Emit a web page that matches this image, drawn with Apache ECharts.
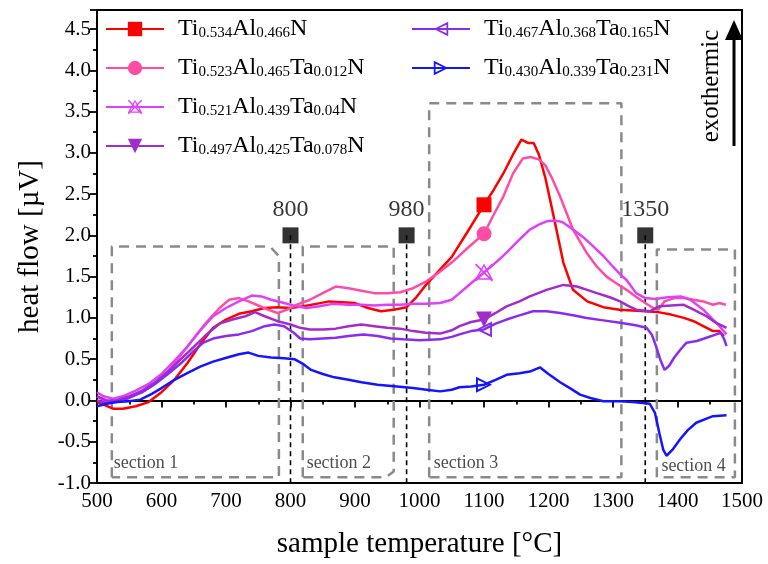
<!DOCTYPE html>
<html>
<head>
<meta charset="utf-8">
<script src="https://cdn.jsdelivr.net/npm/echarts@6/dist/echarts.min.js"></script>
<style>html,body{margin:0;padding:0;background:#fff}#c{width:768px;height:564px}</style>
</head>
<body>
<div id="c"></div>
<script>
// ---------- data (temperature °C, heat flow µV) ----------
const names = ['Ti0.534Al0.466N','Ti0.523Al0.465Ta0.012N','Ti0.521Al0.439Ta0.04N','Ti0.497Al0.425Ta0.078N','Ti0.467Al0.368Ta0.165N','Ti0.430Al0.339Ta0.231N'];

const ti534 = [[500,-0.02],[510,-0.05],[525,-0.1],[540,-0.1],[560,-0.07],[580,-0.02],[600,0.1],[620,0.25],[640,0.45],[660,0.68],[680,0.88],[700,0.98],[720,1.05],[740,1.08],[760,1.12],[780,1.13],[800,1.12],[820,1.14],[840,1.17],[860,1.2],[880,1.19],[900,1.18],[920,1.12],[940,1.08],[960,1.1],[980,1.13],[995,1.25],[1010,1.4],[1030,1.57],[1050,1.74],[1075,2.05],[1100,2.37],[1115,2.55],[1130,2.75],[1145,2.98],[1158,3.16],[1168,3.12],[1177,3.12],[1185,2.98],[1195,2.7],[1208,2.23],[1223,1.67],[1238,1.34],[1260,1.2],[1285,1.13],[1310,1.1],[1330,1.09],[1350,1.08],[1370,1.07],[1390,1.04],[1410,1.0],[1425,0.96],[1440,0.9],[1455,0.84],[1465,0.84],[1472,0.78]];

const ti523 = [[500,0.05],[515,-0.02],[530,0.0],[550,0.05],[570,0.1],[590,0.2],[610,0.35],[630,0.55],[650,0.75],[670,0.95],[690,1.12],[705,1.22],[720,1.24],[735,1.2],[750,1.15],[765,1.1],[780,1.06],[795,1.1],[810,1.16],[830,1.22],[850,1.3],[870,1.38],[890,1.36],[910,1.33],[930,1.3],[950,1.3],[970,1.31],[990,1.36],[1010,1.44],[1030,1.55],[1050,1.67],[1075,1.85],[1100,2.02],[1115,2.25],[1130,2.47],[1145,2.75],[1160,2.93],[1172,2.95],[1185,2.92],[1195,2.85],[1205,2.7],[1218,2.47],[1238,2.07],[1259,1.79],[1275,1.62],[1290,1.5],[1305,1.42],[1321,1.34],[1335,1.26],[1350,1.18],[1362,1.12],[1370,1.1],[1380,1.2],[1395,1.24],[1410,1.24],[1425,1.22],[1440,1.2],[1455,1.16],[1465,1.18],[1475,1.16]];

const ti521 = [[500,0.1],[510,0.05],[525,0.02],[540,0.05],[560,0.12],[580,0.2],[600,0.32],[620,0.48],[640,0.65],[660,0.85],[680,1.02],[700,1.12],[720,1.2],[740,1.27],[755,1.26],[770,1.22],[790,1.18],[810,1.14],[825,1.12],[845,1.14],[865,1.17],[890,1.16],[910,1.16],[930,1.15],[950,1.16],[970,1.16],[990,1.17],[1010,1.17],[1032,1.18],[1050,1.22],[1062,1.3],[1080,1.42],[1100,1.55],[1118,1.67],[1135,1.79],[1155,1.95],[1171,2.07],[1185,2.13],[1197,2.17],[1210,2.18],[1222,2.16],[1238,2.07],[1255,1.97],[1269,1.87],[1285,1.75],[1300,1.62],[1312,1.52],[1321,1.46],[1336,1.3],[1350,1.24],[1365,1.23],[1385,1.25],[1405,1.26],[1420,1.22],[1440,1.1],[1455,0.98],[1465,0.9],[1476,0.8]];

const ti497 = [[500,0.05],[515,0.0],[530,0.0],[550,0.05],[570,0.12],[590,0.22],[610,0.35],[630,0.5],[650,0.65],[670,0.8],[690,0.93],[710,0.98],[730,1.02],[745,1.07],[760,1.02],[780,0.96],[800,0.92],[815,0.88],[830,0.86],[850,0.86],[870,0.87],[890,0.9],[910,0.92],[930,0.9],[950,0.88],[970,0.87],[990,0.84],[1010,0.82],[1032,0.81],[1050,0.85],[1062,0.9],[1080,0.95],[1100,0.98],[1118,1.06],[1135,1.14],[1155,1.2],[1171,1.26],[1197,1.34],[1223,1.4],[1244,1.38],[1260,1.34],[1275,1.3],[1295,1.25],[1311,1.2],[1325,1.14],[1336,1.1],[1357,1.08],[1372,1.14],[1390,1.15],[1409,1.16],[1425,1.1],[1445,1.02],[1460,0.94],[1476,0.88]];

const ti467 = [[500,0.0],[515,-0.03],[530,-0.02],[550,0.03],[570,0.1],[590,0.2],[610,0.32],[630,0.45],[650,0.6],[665,0.7],[680,0.75],[700,0.78],[720,0.8],[740,0.84],[760,0.9],[775,0.92],[790,0.9],[805,0.82],[815,0.75],[830,0.74],[850,0.75],[870,0.76],[890,0.78],[913,0.8],[935,0.78],[955,0.75],[975,0.74],[1000,0.73],[1032,0.74],[1050,0.77],[1062,0.8],[1080,0.84],[1100,0.86],[1118,0.93],[1135,0.98],[1155,1.03],[1176,1.08],[1197,1.08],[1218,1.06],[1240,1.03],[1259,1.0],[1285,0.97],[1311,0.94],[1335,0.91],[1352,0.88],[1360,0.8],[1367,0.65],[1374,0.48],[1380,0.37],[1387,0.42],[1395,0.52],[1405,0.62],[1414,0.7],[1430,0.72],[1445,0.76],[1460,0.8],[1467,0.82],[1472,0.75],[1476,0.66]];

const ti430 = [[500,-0.07],[515,-0.04],[530,-0.02],[550,-0.01],[567,0.01],[585,0.08],[600,0.15],[620,0.25],[640,0.33],[660,0.41],[680,0.47],[702,0.52],[720,0.56],[735,0.58],[750,0.54],[770,0.52],[790,0.51],[806,0.5],[820,0.44],[832,0.37],[850,0.32],[868,0.28],[890,0.25],[910,0.22],[935,0.19],[965,0.17],[990,0.15],[1011,0.13],[1032,0.11],[1050,0.13],[1062,0.16],[1080,0.17],[1100,0.19],[1118,0.25],[1135,0.31],[1155,0.33],[1171,0.35],[1187,0.4],[1200,0.32],[1218,0.22],[1235,0.14],[1249,0.07],[1265,0.03],[1285,-0.01],[1310,-0.01],[1331,-0.02],[1357,-0.04],[1365,-0.15],[1372,-0.4],[1378,-0.6],[1383,-0.67],[1392,-0.6],[1404,-0.47],[1416,-0.36],[1429,-0.27],[1445,-0.22],[1455,-0.19],[1476,-0.18]];

const markerTemp = 1100;
const xTicks = [500,600,700,800,900,1000,1100,1200,1300,1400,1500];
const yTicks = [-1.0,-0.5,0.0,0.5,1.0,1.5,2.0,2.5,3.0,3.5,4.0,4.5];

// annotations (data coordinates)
const transitionTemps = [800, 980, 1350];
const transitionLevel = 2.0;
const sectionNames = ['section 1','section 2','section 3','section 4'];
const sectionBoxes = [
  [[523,-0.93],[523,1.866],[768,1.866],[782,1.75],[782,-0.93],[523,-0.93]],
  [[819,-0.93],[819,1.866],[960,1.866],[960,-0.86],[948,-0.93],[819,-0.93]],
  [[1015,-0.93],[1015,3.6],[1313,3.6],[1313,-0.93],[1015,-0.93]],
  [[1368,-0.93],[1368,1.83],[1489,1.83],[1489,-0.93],[1368,-0.93]]
];
const sectionLabelPos = [[526,-0.76],[825,-0.76],[1022,-0.76],[1375,-0.8]];

// ---------- styles ----------
const FONT = 'Liberation Serif';
const colors = ['#ff0000','#ff4da6','#e040fb','#a22ccc','#8a2cf0','#1414ff'];
const sym = [
  'rect',
  'circle',
  'path://M50 0L100 90L0 90ZM50 16L14 82L86 82ZM0 7L7 0L100 93L93 100ZM93 0L100 7L7 100L0 93Z',
  'path://M0 0L100 0L50 100Z',
  'path://M100 0L100 100L0 50ZM88 20L24 50L88 80Z',
  'path://M0 0L100 50L0 100ZM12 20L12 80L76 50ZM30 45L37 45L37 55L30 55Z'
];
const symSize = [15, 15, 18, 16, 16, 16];
const seriesData = [ti534, ti523, ti521, ti497, ti467, ti430];

const lineSeries = seriesData.map((arr, i) => ({
  name: names[i],
  type: 'line',
  data: arr.map(p => p[0] === markerTemp ? {value: p, symbolSize: symSize[i]} : p),
  symbol: sym[i],
  symbolSize: 0,
  showSymbol: true,
  showAllSymbol: true,
  lineStyle: {width: 2.5, color: colors[i]},
  itemStyle: {color: colors[i]},
  z: 5,
  silent: true,
  animation: false
}));

const boxSeries = sectionBoxes.map(b => ({
  type: 'line', data: b, symbol: 'none', silent: true, animation: false, z: 3,
  lineStyle: {color: '#8a8a8a', width: 2.5, type: [10, 7]}
}));

const vlineSeries = transitionTemps.map(t => ({
  type: 'line', data: [[t, transitionLevel], [t, -1.0]], symbol: 'none', silent: true, animation: false, z: 4,
  lineStyle: {color: '#000', width: 1.6, type: [5, 4]}
}));

const squareSeries = {
  type: 'scatter', data: transitionTemps.map(t => [t, transitionLevel]), symbol: 'rect', symbolSize: 16,
  itemStyle: {color: '#000'}, silent: true, animation: false, z: 6,
  label: {show: true, position: 'top', distance: 6, formatter: p => String(p.value[0]), fontFamily: FONT, fontSize: 24, color: '#000'}
};

const sectionLabelSeries = {
  type: 'scatter', data: sectionLabelPos.map((p, i) => ({value: p, name: sectionNames[i]})), symbolSize: 0,
  silent: true, animation: false, z: 6,
  label: {show: true, position: 'right', distance: 0, formatter: p => p.name, fontFamily: FONT, fontSize: 18, color: '#222'}
};

function legendFmt(name) {
  const toks = name.match(/[A-Z][a-z]?|[0-9.]+/g);
  return toks.map(t => /[0-9]/.test(t) ? '{s|' + t + '}' : '{m|' + t + '}').join('');
}
const legendText = {
  fontFamily: FONT, color: '#000', padding: [0, 0, 0, 9],
  rich: {
    m: {fontFamily: FONT, fontSize: 24, lineHeight: 24, color: '#000'},
    s: {fontFamily: FONT, fontSize: 15, lineHeight: 15, padding: [17, 0, 0, 0], verticalAlign: 'bottom', color: '#000'}
  }
};

const chart = echarts.init(document.getElementById('c'), null, {renderer: 'canvas'});
chart.setOption({
  animation: false,
  backgroundColor: '#fff',
  grid: {left: 97, right: 26, top: 10, bottom: 80, show: true, borderColor: '#000', borderWidth: 2, backgroundColor: 'transparent'},
  legend: [
    {data: names.slice(0, 4), orient: 'vertical', left: 105, top: 9, padding: 0, itemGap: 7, itemWidth: 58, itemHeight: 18,
     formatter: legendFmt, textStyle: legendText, selectedMode: false},
    {data: names.slice(4), orient: 'vertical', left: 411, top: 9, padding: 0, itemGap: 7, itemWidth: 58, itemHeight: 18,
     formatter: legendFmt, textStyle: legendText, selectedMode: false}
  ],
  xAxis: {
    type: 'value', min: xTicks[0], max: xTicks[xTicks.length - 1], interval: 100,
    name: 'sample temperature [°C]', nameLocation: 'middle', nameGap: 47,
    nameTextStyle: {fontFamily: FONT, fontSize: 29, color: '#000'},
    axisLine: {show: true, lineStyle: {color: '#000', width: 2}},
    axisTick: {show: true, length: 7, lineStyle: {color: '#000', width: 1.8}},
    minorTick: {show: true, splitNumber: 2, length: 4, lineStyle: {color: '#000', width: 1.8}},
    axisLabel: {fontFamily: FONT, fontSize: 21, color: '#000', margin: 8, formatter: v => xTicks.includes(v) ? String(v) : ''},
    splitLine: {show: false}
  },
  yAxis: {
    type: 'value', min: yTicks[0], max: 4.73, interval: 0.5,
    name: 'heat flow [µV]', nameLocation: 'middle', nameGap: 52,
    nameTextStyle: {fontFamily: FONT, fontSize: 29, color: '#000'},
    axisLine: {show: true, lineStyle: {color: '#000', width: 2}},
    axisTick: {show: true, length: 7, lineStyle: {color: '#000', width: 1.8}},
    minorTick: {show: true, splitNumber: 2, length: 4, lineStyle: {color: '#000', width: 1.8}},
    axisLabel: {fontFamily: FONT, fontSize: 21, color: '#000', margin: 6, showMaxLabel: false,
      formatter: v => yTicks.some(t => Math.abs(t - v) < 1e-6) ? v.toFixed(1) : ''},
    splitLine: {show: false}
  },
  graphic: [
    {type: 'text', x: 711, y: 86, rotation: Math.PI / 2, style: {text: 'exothermic', fontFamily: FONT, fontSize: 25, fill: '#000', align: 'center', verticalAlign: 'middle'}},
    {type: 'line', shape: {x1: 734, y1: 146, x2: 734, y2: 36}, style: {stroke: '#000', lineWidth: 3}},
    {type: 'polygon', shape: {points: [[725, 40], [743, 40], [734, 20]]}, style: {fill: '#000'}}
  ],
  series: [...boxSeries, ...vlineSeries, ...lineSeries, squareSeries, sectionLabelSeries]
});
</script>
</body>
</html>
